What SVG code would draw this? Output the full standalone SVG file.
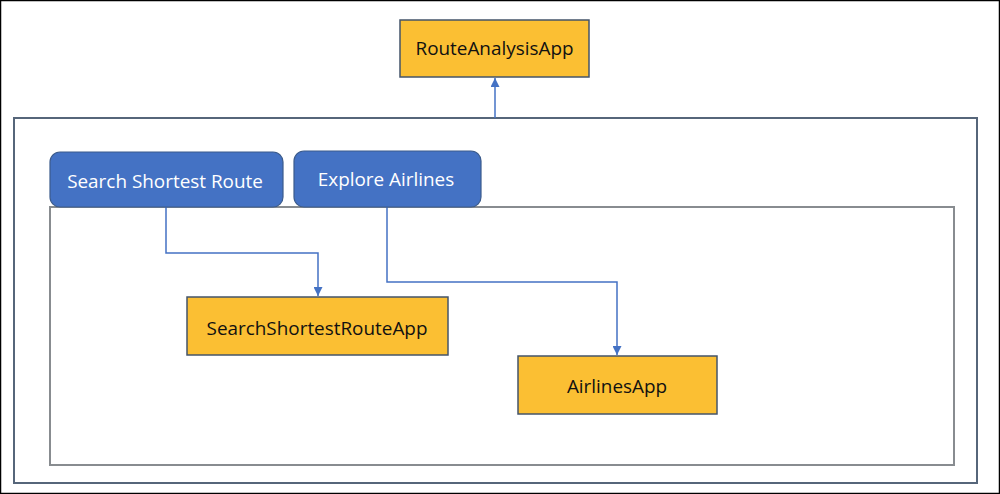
<svg xmlns="http://www.w3.org/2000/svg" width="1000" height="494" viewBox="0 0 1000 494">
<style>
.app{fill:#FBBF33;stroke:#44546A;stroke-width:1.5}
.btn{fill:#4472C4;stroke:#3B5B8C;stroke-width:1.2}
.t{font-family:"Open Sans","Noto Sans",sans-serif;font-size:18.9px;text-anchor:middle;dominant-baseline:central}
.dark{fill:#111}
.light{fill:#fff}
.con{fill:none;stroke:#4472C4;stroke-width:1.5}
</style>
<defs>
<marker id="ah" viewBox="0 0 10 10" refX="10" refY="5" markerWidth="6" markerHeight="6" orient="auto" markerUnits="strokeWidth">
<path d="M0,0 L10,5 L0,10 z" fill="#4472C4"/>
</marker>
</defs>
<rect x="0.5" y="0.5" width="999" height="493" fill="#fff" stroke="#000" stroke-width="1.5"/>
<g id="outer-container"><rect x="14" y="118" width="963" height="365" fill="none" stroke="#56667A" stroke-width="2"/></g>
<g id="inner-container"><rect x="50" y="207" width="904" height="258" fill="none" stroke="#888C90" stroke-width="2"/></g>
<g id="connectors">
<path class="con" d="M495,118 V78" marker-end="url(#ah)"/>
<path class="con" d="M166,207 V253 H318 V296" marker-end="url(#ah)"/>
<path class="con" d="M387,207 V282 H617 V355" marker-end="url(#ah)"/>
</g>
<g id="route-analysis-app"><rect class="app" x="400" y="20" width="189" height="57"/><text class="t dark" x="494.5" y="48">RouteAnalysisApp</text></g>
<g id="search-shortest-route"><rect class="btn" x="50" y="152" width="233" height="55" rx="10"/><text class="t light" x="165" y="181">Search Shortest Route</text></g>
<g id="explore-airlines"><rect class="btn" x="294" y="151" width="187" height="56" rx="10"/><text class="t light" x="386" y="179">Explore Airlines</text></g>
<g id="search-shortest-route-app"><rect class="app" x="187" y="297" width="261" height="58"/><text class="t dark" x="317" y="328">SearchShortestRouteApp</text></g>
<g id="airlines-app"><rect class="app" x="518" y="356" width="199" height="58"/><text class="t dark" x="617" y="386">AirlinesApp</text></g>
</svg>
